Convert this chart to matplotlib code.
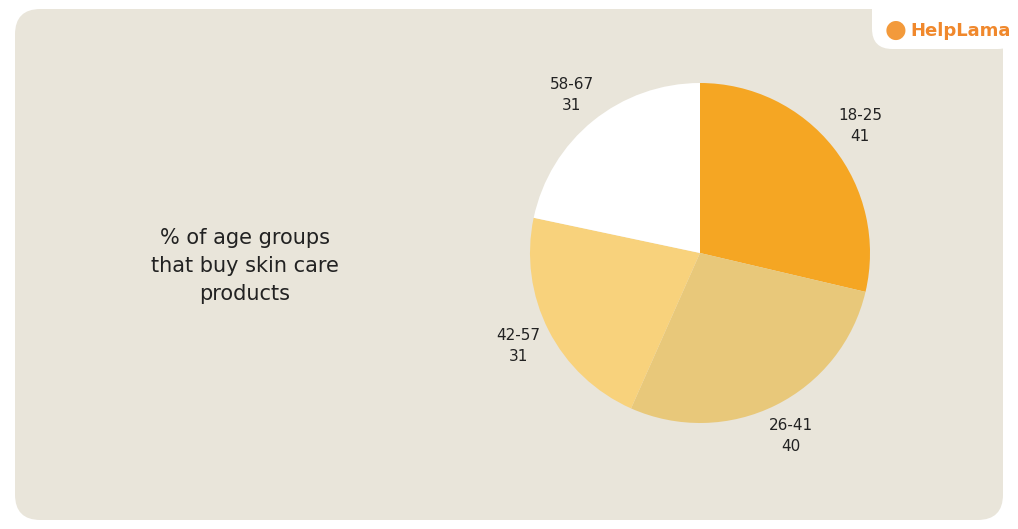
import matplotlib.pyplot as plt
from matplotlib.patches import FancyBboxPatch

age_groups = ['18-25', '26-41', '42-57', '58-67']
shares = [41, 40, 31, 31]
colors = ['#F5A623', '#E8C87A', '#F8D27C', '#FFFFFF']

fig = plt.figure(figsize=(10.18, 5.29), dpi=100)
fig.patch.set_facecolor('white')

# rounded background panel
panel = FancyBboxPatch((15 / 1018, 9 / 529), 988 / 1018, 511 / 529,
                       boxstyle='round,pad=0,rounding_size=0.025',
                       transform=fig.transFigure, facecolor='#E9E5DA',
                       edgecolor='none', mutation_aspect=1018 / 529, zorder=-2)
fig.patches.append(panel)

# logo tab
tab = FancyBboxPatch((872 / 1018, 480 / 529), 146 / 1018, 60 / 529,
                     boxstyle='round,pad=0,rounding_size=0.02',
                     transform=fig.transFigure, facecolor='white',
                     edgecolor='none', mutation_aspect=1018 / 529, zorder=-1)
fig.patches.append(tab)
fig.text(896 / 1018, 1 - 30 / 529, '●', color='#F39A3B', fontsize=18,
         ha='center', va='center')
fig.text(910 / 1018, 1 - 31 / 529, 'HelpLama', color='#F0882C', fontsize=13,
         fontweight='bold', ha='left', va='center')

fig.text(245 / 1018, 1 - 266 / 529, '% of age groups\nthat buy skin care\nproducts',
         ha='center', va='center', fontsize=15, color='#222222', linespacing=1.5)

ax = fig.add_axes([530 / 1018, 106 / 529, 340 / 1018, 340 / 529])
labels = [f'{g}\n{v}' for g, v in zip(age_groups, shares)]
ax.pie(shares, labels=labels, colors=colors, startangle=90, counterclock=False,
       labeldistance=1.2, wedgeprops={'linewidth': 0},
       textprops={'fontsize': 11, 'color': '#222222', 'ha': 'center',
                  'va': 'center', 'linespacing': 1.5, 'clip_on': False})
ax.set_xlim(-1, 1)
ax.set_ylim(-1, 1)
ax.set_aspect('equal')

fig.savefig('out.png', dpi=100)
